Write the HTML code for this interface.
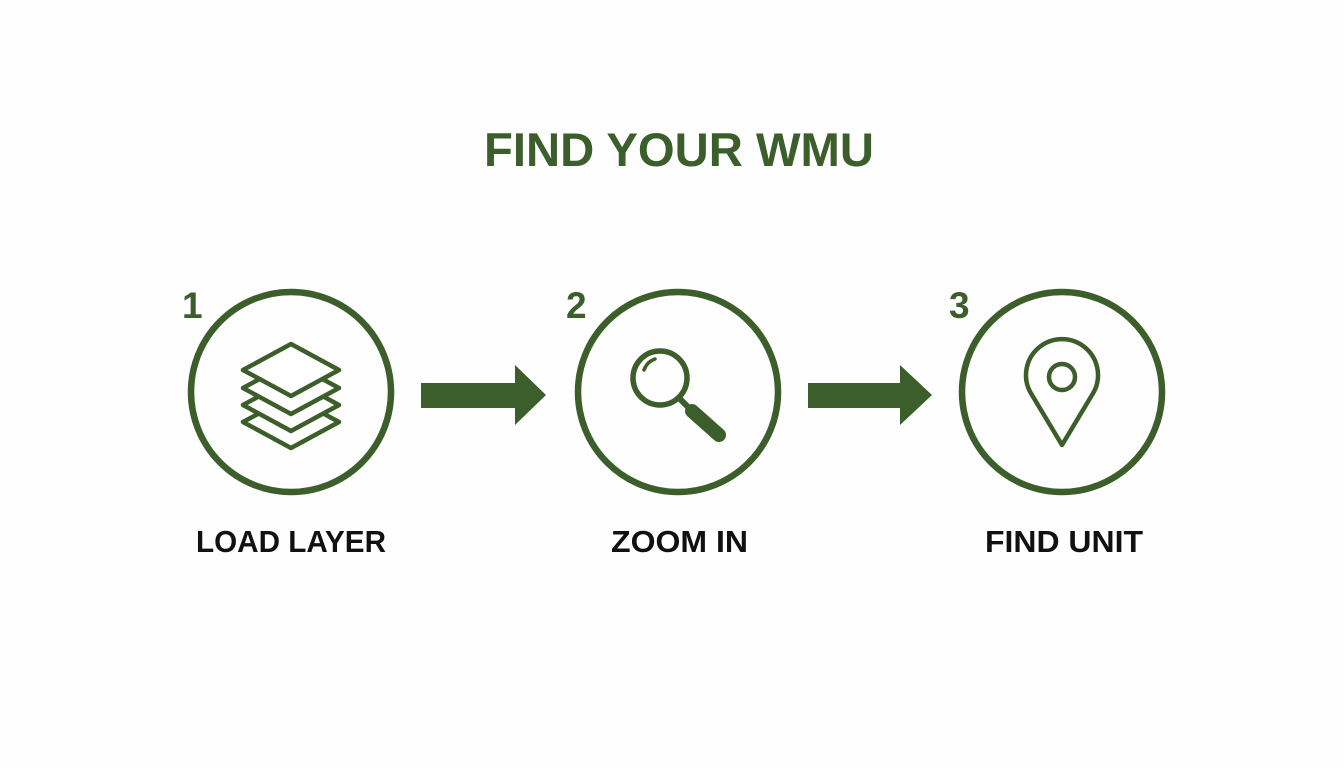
<!DOCTYPE html>
<html><head><meta charset="utf-8"><style>
html,body{margin:0;padding:0;background:#fff;}
svg{display:block;}
text{font-family:"Liberation Sans",Arial,sans-serif;font-weight:bold;}
</style></head><body>
<svg width="1344" height="768" viewBox="0 0 1344 768">
<rect width="1344" height="768" fill="#fefefe"/>
<g fill="#3b5e2b">
<text x="484" y="166" font-size="47" textLength="390" lengthAdjust="spacingAndGlyphs">FIND YOUR WMU</text>
<text x="182" y="318" font-size="37">1</text>
<text x="566" y="318" font-size="37">2</text>
<text x="949" y="318" font-size="37">3</text>
</g>
<g fill="#111" font-size="31">
<text x="196" y="552" textLength="190" lengthAdjust="spacingAndGlyphs">LOAD LAYER</text>
<text x="611" y="552" textLength="137" lengthAdjust="spacingAndGlyphs">ZOOM IN</text>
<text x="985" y="552" textLength="158" lengthAdjust="spacingAndGlyphs">FIND UNIT</text>
</g>
<g fill="none" stroke="#3b5e2b" stroke-width="6.5">
<circle cx="291" cy="392" r="100"/>
<circle cx="678" cy="392" r="100"/>
<circle cx="1062" cy="392" r="100"/>
</g>
<g fill="#3b5e2b">
<polygon points="421,383 515,383 515,365 546,395 515,425 515,408 421,408"/>
<polygon points="808,383 900,383 900,365 932,395 900,425 900,408 808,408"/>
</g>
<g fill="#fff" stroke="#3b5e2b" stroke-width="4.5" stroke-linejoin="round">
<polygon points="291,396 339,422 291,448 243,422"/>
<polygon points="291,379 339,405 291,431 243,405"/>
<polygon points="291,362 339,388 291,414 243,388"/>
<polygon points="291,344 339,370 291,396 243,370"/>
</g>
<g stroke="#3b5e2b" fill="none">
<circle cx="660" cy="378" r="27" stroke-width="5.5"/>
<path d="M644,370 A18,18 0 0 1 655,359" stroke-width="3.5" stroke-linecap="round"/>
<line x1="679" y1="398" x2="688" y2="407" stroke-width="6"/>
<line x1="692" y1="411" x2="719" y2="435" stroke-width="14" stroke-linecap="round"/>
</g>
<g stroke="#3b5e2b" fill="none" stroke-width="4.5" stroke-linejoin="round">
<path d="M1062,445 L1032,395 A36,36 0 1 1 1092,395 Z"/>
<circle cx="1062" cy="377" r="13"/>
</g>
</svg>
</body></html>
